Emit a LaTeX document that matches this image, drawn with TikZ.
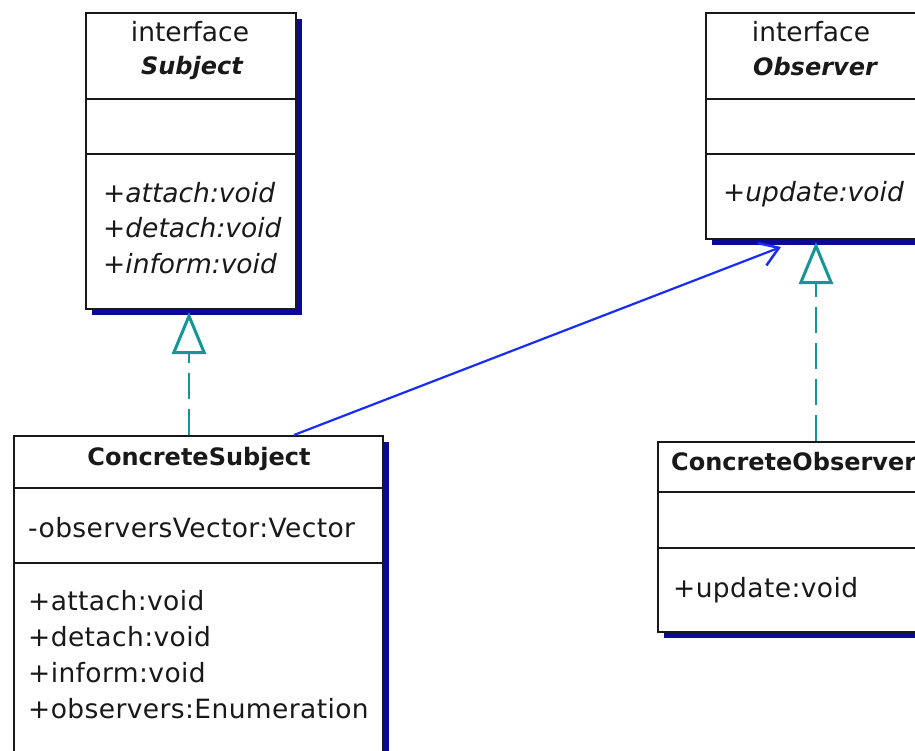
\documentclass[tikz,border=0pt]{standalone}
\usepackage{fontspec}
\setmainfont{DejaVu Sans}
\newfontfamily\spacedfont{DejaVu Sans}[LetterSpace=1.5]
\usetikzlibrary{arrows.meta,shadows}
\definecolor{shadowc}{RGB}{10,10,150}
\definecolor{realc}{RGB}{20,150,150}
\definecolor{assocc}{RGB}{25,45,250}
\definecolor{inkc}{RGB}{25,25,25}
\begin{document}
\begin{tikzpicture}[x=1pt,y=-1pt,
  cls/.style={draw=inkc,line width=2pt,fill=white,anchor=north west,inner sep=0pt,
    drop shadow={shadow xshift=6pt,shadow yshift=-6pt,fill=shadowc,opacity=1}},
  divl/.style={draw=inkc,line width=2pt},
  txt/.style={anchor=base west,inner sep=0pt,text=inkc,font=\spacedfont\fontsize{26.5}{32}\selectfont},
  itxt/.style={anchor=base west,inner sep=0pt,text=inkc,font=\fontsize{26.5}{32}\selectfont\itshape},
  stereo/.style={anchor=base,inner sep=0pt,text=inkc,font=\fontsize{26.5}{32}\selectfont},
  ititle/.style={anchor=base,inner sep=0pt,text=inkc,font=\fontsize{24}{28}\selectfont\bfseries\itshape},
  title/.style={inner sep=0pt,text=inkc,font=\fontsize{24}{28}\selectfont\bfseries},
  realize/.style={draw=realc,line width=2.2pt,dash pattern=on 26pt off 10pt,
    -{Triangle[length=42pt,width=34pt,fill=white,line width=3pt]}},
  assoc/.style={draw=assocc,line width=2.2pt,-{Straight Barb[length=18pt,width=24pt,line width=2.5pt]}}
]
\useasboundingbox (0,0) rectangle (915,751);
\clip (0,0) rectangle (915,751);

% Subject
\node[cls,minimum width=210pt,minimum height=296pt] (subj) at (85,12) {};
\draw[divl] (85,99) -- (295,99);
\draw[divl] (85,154) -- (295,154);
\node[stereo] (subjst) at (190,42) {interface};
\node[ititle] (subjnm) at (192,75) {Subject};
\node[itxt] (subjm1) at (103,203) {+attach:void};
\node[itxt] (subjm2) at (103,238) {+detach:void};
\node[itxt] (subjm3) at (103,273) {+inform:void};

% Observer
\node[cls,minimum width=214pt,minimum height=226pt] (obs) at (705,12) {};
\draw[divl] (705,99) -- (919,99);
\draw[divl] (705,154) -- (919,154);
\node[stereo] (obsst) at (811,42) {interface};
\node[ititle] (obsnm) at (815,76) {Observer};
\node[itxt] (obsm1) at (723,202) {+update:void};

% ConcreteSubject
\node[cls,minimum width=369pt,minimum height=340pt] (csub) at (13,435) {};
\draw[divl] (13,488) -- (382,488);
\draw[divl] (13,563) -- (382,563);
\node[title,anchor=base] (csubnm) at (199,465) {ConcreteSubject};
\node[txt] (csuba1) at (28,537) {-observersVector:Vector};
\node[txt] (csubm1) at (28,610) {+attach:void};
\node[txt] (csubm2) at (28,646) {+detach:void};
\node[txt] (csubm3) at (28,682) {+inform:void};
\node[txt] (csubm4) at (28,718) {+observers:Enumeration};

% ConcreteObserver
\node[cls,minimum width=330pt,minimum height=190pt] (cobs) at (657,441) {};
\draw[divl] (657,492) -- (987,492);
\draw[divl] (657,548) -- (987,548);
\node[title,anchor=base west] (cobsnm) at (671,470) {ConcreteObserver};
\node[txt] (cobsm1) at (673,597) {+update:void};

% connectors
\draw[realize] ([xshift=-9.5pt]csub.north) -- ([xshift=-2pt,yshift=-2pt]subj.south);
\draw[realize] ([xshift=-7pt]cobs.north) -- ([xshift=3pt,yshift=-2pt]obs.south);
\draw[assoc] ([xshift=95.5pt]csub.north) -- ([xshift=-32pt,yshift=-7pt]obs.south);
\end{tikzpicture}
\end{document}
